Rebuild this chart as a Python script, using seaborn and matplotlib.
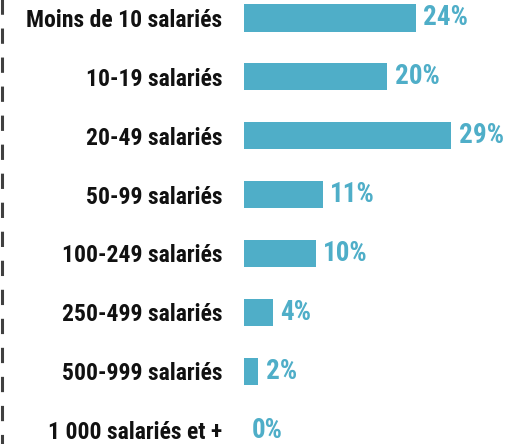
import matplotlib
matplotlib.use("Agg")
import matplotlib.pyplot as plt
import matplotlib.lines as mlines
from matplotlib import font_manager
import seaborn as sns
import pandas as pd

categories = ["Moins de 10 salariés", "10-19 salariés", "20-49 salariés",
              "50-99 salariés", "100-249 salariés", "250-499 salariés",
              "500-999 salariés", "1 000 salariés et +"]
values = [24, 20, 29, 11, 10, 4, 2, 0]
value_labels = ["24%", "20%", "29%", "11%", "10%", "4%", "2%", "0%"]

df = pd.DataFrame({"tranche": categories, "part": values})

sns.set_style("white")
# condensed face if there is one, else plain sans
names = {f.name for f in font_manager.fontManager.ttflist}
narrow = [n for n in ["Roboto Condensed", "Liberation Sans Narrow", "DejaVu Sans Condensed"] if n in names]
plt.rcParams["font.family"] = narrow[:1] + ["Liberation Sans", "DejaVu Sans"]

bar_color = "#4FAEC8"

fig = plt.figure(figsize=(5.2, 4.44), dpi=100)
ax = fig.add_axes([244 / 520, 0, 1 - 244 / 520, 1])

sns.barplot(data=df, x="part", y="tranche", color=bar_color, width=0.46,
            saturation=1, ax=ax, edgecolor="none")

ax.set_xlim(0, 276 / 7.15)
ax.set_ylim(7 + 14 / 58.86, -18 / 58.86)
sns.despine(ax=ax, left=True, bottom=True)
ax.set_xticks([])
ax.set_xlabel("")
ax.set_ylabel("")
ax.tick_params(axis="y", length=0, pad=15.5)
for t in ax.get_yticklabels():
    t.set_fontweight("bold")
    t.set_fontsize(17)
    t.set_color("#111111")

for i, (v, lab) in enumerate(zip(values, value_labels)):
    ax.text(v + 1.05, i, lab, va="center", ha="left", fontsize=19.5,
            fontweight="bold", color=bar_color)

# dashed vertical rule on the far left (starts above the top so the dashes fall like the original)
fig.add_artist(mlines.Line2D([1.5 / 520, 1.5 / 520], [1 + 16.5 / 444, 0], transform=fig.transFigure,
                             color="#404040", linewidth=2.2, linestyle=(0, (5, 4.5))))

fig.savefig("out.png", dpi=100)
